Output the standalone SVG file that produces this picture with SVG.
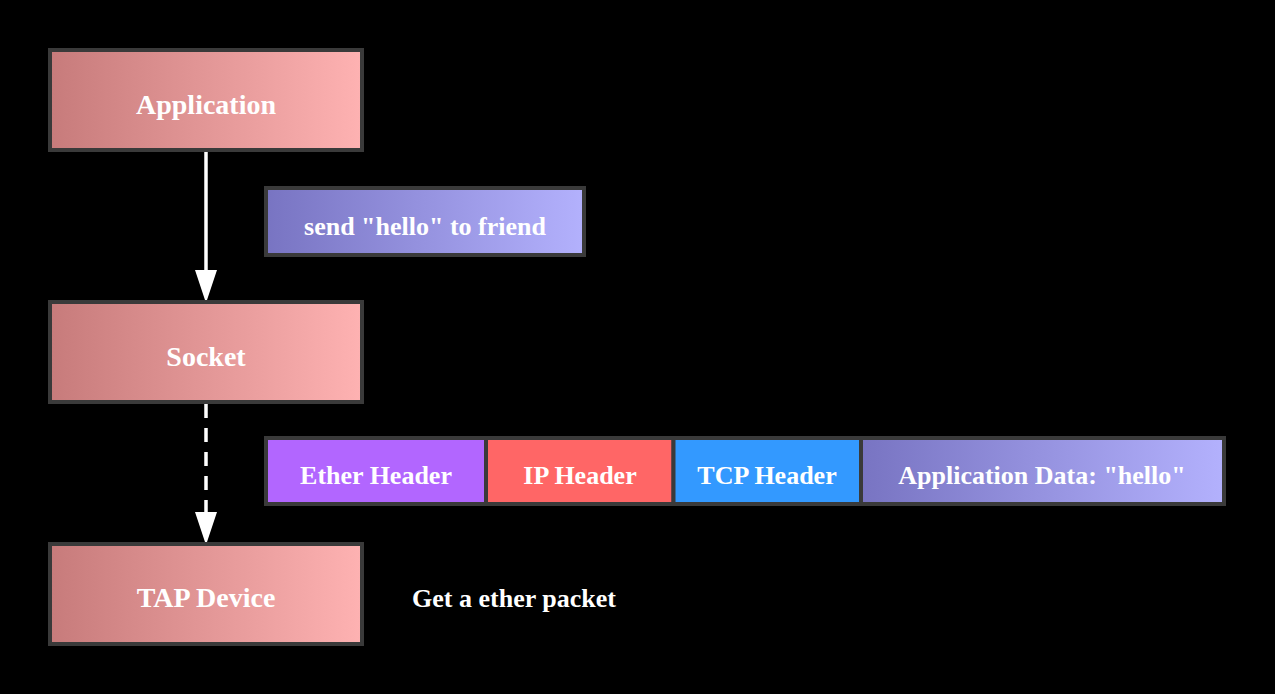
<svg xmlns="http://www.w3.org/2000/svg" width="1275" height="694" viewBox="0 0 1275 694">
<defs>
<linearGradient id="pink" x1="0" y1="0" x2="1" y2="0"><stop offset="0" stop-color="#c77b7b"/><stop offset="1" stop-color="#feb2b2"/></linearGradient>
<linearGradient id="blue" x1="0" y1="0" x2="1" y2="0"><stop offset="0" stop-color="#7874c2"/><stop offset="1" stop-color="#b3b1fd"/></linearGradient>
<marker id="ah" markerWidth="22" markerHeight="33" refX="11" refY="33" orient="auto-start-reverse" markerUnits="userSpaceOnUse" viewBox="0 0 22 33"><path d="M0,0 L22,0 L11,33 Z" fill="#fff"/></marker>
<style>
.box{stroke:#3a3a3a;stroke-width:4}
.t{font-family:"Liberation Serif","Times New Roman",serif;font-weight:bold;fill:#fff;text-anchor:middle}
.n{font-size:28px}
.s{font-size:26px}
.c{stroke:#fff;stroke-width:3.5;fill:none}
</style>
</defs>
<rect width="1275" height="694" fill="#000"/>
<g id="connectors">
<line class="c" x1="206" y1="152" x2="206" y2="272"/>
<path d="M195,270 L217,270 L206,303 Z" fill="#fff"/>
<line class="c" x1="206" y1="404" x2="206" y2="512" stroke-dasharray="14,10"/>
<path d="M195,512 L217,512 L206,545 Z" fill="#fff"/>
</g>
<g id="application">
<rect class="box" x="50" y="50" width="312" height="100" fill="url(#pink)"/>
<text class="t n" x="206" y="114">Application</text>
</g>
<g id="send-hello">
<rect class="box" x="266" y="188" width="318" height="67" fill="url(#blue)"/>
<text class="t s" x="425" y="235">send "hello" to friend</text>
</g>
<g id="socket">
<rect class="box" x="50" y="302" width="312" height="100" fill="url(#pink)"/>
<text class="t n" x="206" y="366">Socket</text>
</g>
<g id="packet">
<g id="ether-header">
<rect class="box" x="266" y="438" width="220" height="66" fill="#b266ff"/>
<text class="t s" x="376" y="484">Ether Header</text>
</g>
<g id="ip-header">
<rect class="box" x="486" y="438" width="187.5" height="66" fill="#ff6666"/>
<text class="t s" x="580" y="484">IP Header</text>
</g>
<g id="tcp-header">
<rect class="box" x="673.5" y="438" width="187.5" height="66" fill="#3399ff"/>
<text class="t s" x="767" y="484">TCP Header</text>
</g>
<g id="app-data">
<rect class="box" x="861" y="438" width="363" height="66" fill="url(#blue)"/>
<text class="t s" x="1042" y="484">Application Data: "hello"</text>
</g>
</g>
<g id="tap-device">
<rect class="box" x="50" y="544" width="312" height="100" fill="url(#pink)"/>
<text class="t n" x="206" y="607">TAP Device</text>
</g>
<g id="get-packet">
<text class="t s" x="514" y="607">Get a ether packet</text>
</g>
</svg>
